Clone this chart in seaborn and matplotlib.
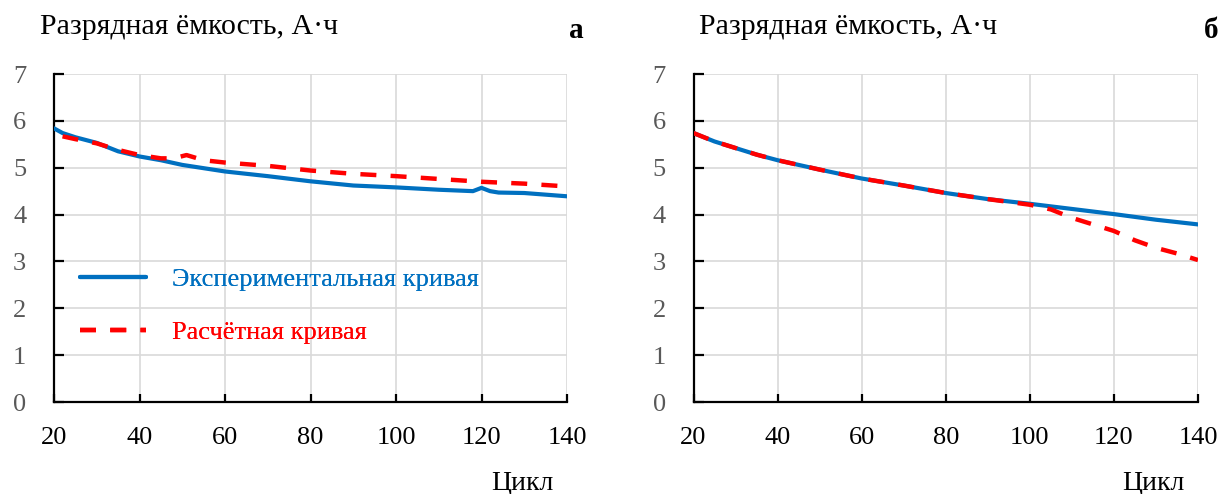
import matplotlib
matplotlib.use("Agg")
import matplotlib.pyplot as plt
import seaborn as sns
import pandas as pd

# ---- data ----
cycles_a_exp = [20, 22, 25, 30, 35, 40, 45, 50, 55, 60, 70, 80, 90, 100, 110, 118, 120, 122, 124, 130, 140]
cap_a_exp = [5.84, 5.74, 5.65, 5.53, 5.35, 5.24, 5.16, 5.06, 4.99, 4.92, 4.82, 4.71, 4.62, 4.58, 4.53, 4.50, 4.57, 4.50, 4.47, 4.46, 4.39]

cycles_a_calc = [22, 25, 30, 35, 40, 45, 48, 51, 55, 60, 70, 80, 90, 100, 110, 120, 130, 140]
cap_a_calc = [5.67, 5.61, 5.52, 5.38, 5.27, 5.20, 5.20, 5.27, 5.16, 5.11, 5.04, 4.94, 4.87, 4.82, 4.76, 4.70, 4.66, 4.60]

cycles_b_exp = [20, 25, 30, 35, 40, 50, 60, 70, 80, 90, 100, 110, 120, 130, 140]
cap_b_exp = [5.74, 5.56, 5.42, 5.28, 5.16, 4.96, 4.77, 4.62, 4.46, 4.33, 4.23, 4.12, 4.01, 3.89, 3.79]

cycles_b_calc = [20, 25, 30, 35, 40, 50, 60, 70, 80, 90, 100, 105, 110, 115, 120, 125, 130, 135, 140]
cap_b_calc = [5.74, 5.56, 5.42, 5.28, 5.16, 4.96, 4.77, 4.62, 4.46, 4.33, 4.21, 4.11, 3.93, 3.79, 3.65, 3.45, 3.29, 3.17, 3.03]

x_ticks = [20, 40, 60, 80, 100, 120, 140]
y_ticks = [0, 1, 2, 3, 4, 5, 6, 7]
y_label = "Разрядная ёмкость, А·ч"
x_label = "Цикл"
panel_letters = ["а", "б"]
legend_labels = ["Экспериментальная кривая", "Расчётная кривая"]

BLUE = "#0070C0"
RED = "#FF0000"

sns.set_theme(style="white")
plt.rcParams["font.family"] = ["Liberation Serif", "DejaVu Serif"]

fig = plt.figure(figsize=(12.2, 4.94), dpi=100)
W, H = 1220, 494
axes_px = [(54, 567), (693.5, 1198)]
title_x = [40, 699]
letter_x = [576, 1211]
top_px, bot_px = 74, 402

datasets = [
    (cycles_a_exp, cap_a_exp, cycles_a_calc, cap_a_calc),
    (cycles_b_exp, cap_b_exp, cycles_b_calc, cap_b_calc),
]

FS = 19
for i, ((l, r), (xe, ye, xc, yc)) in enumerate(zip(axes_px, datasets)):
    ax = fig.add_axes([l / W, 1 - bot_px / H, (r - l) / W, (bot_px - top_px) / H])
    de = pd.DataFrame({"x": xe, "y": ye})
    dc = pd.DataFrame({"x": xc, "y": yc})
    sns.lineplot(data=de, x="x", y="y", ax=ax, color=BLUE, linewidth=3.0,
                 label=legend_labels[0], zorder=3)
    sns.lineplot(data=dc, x="x", y="y", ax=ax, color=RED, linewidth=3.2,
                 label=legend_labels[1], zorder=4)
    ax.lines[1].set_dashes((3.6, 3.2))
    ax.lines[1].set_dash_capstyle("butt")

    ax.set_xlim(20, 140)
    ax.set_ylim(0, 7)
    ax.set_xticks(x_ticks)
    ax.set_yticks(y_ticks)
    ax.set_xlabel("")
    ax.set_ylabel("")
    ax.grid(True, color="#D9D9D9", linewidth=1.2, zorder=0)
    ax.set_axisbelow(True)
    for s in ["top", "right"]:
        ax.spines[s].set_visible(False)
    for s in ["left", "bottom"]:
        ax.spines[s].set_color("black")
        ax.spines[s].set_linewidth(1.6)
    ax.tick_params(axis="y", direction="in", length=7, width=1.6, color="black",
                   labelsize=FS, labelcolor="#595959", pad=20, left=True)
    ax.tick_params(axis="x", direction="in", length=6, width=1.6, color="black",
                   labelsize=FS, labelcolor="black", pad=18, bottom=True)
    for lab in ax.get_xticklabels() + ax.get_yticklabels():
        lab.set_clip_on(False)

    leg = ax.legend(loc="upper left", bbox_to_anchor=((80 - l) / (r - l), 0.41),
                    frameon=False, fontsize=19, handlelength=2.5,
                    handletextpad=1.0, labelspacing=1.12, borderpad=0,
                    borderaxespad=0, labelcolor="linecolor")

    # texts
    fig.text(title_x[i] / W, 1 - 27 / H, y_label, fontsize=21.5, ha="left", va="center", color="black")
    fig.text(letter_x[i] / W, 1 - 31 / H, panel_letters[i], fontsize=21, fontweight="bold",
             ha="center", va="center", color="black")
    fig.text((r - 45) / W, 1 - 483 / H, x_label, fontsize=20, ha="center", va="center", color="black")

fig.savefig("out.png", dpi=100)
